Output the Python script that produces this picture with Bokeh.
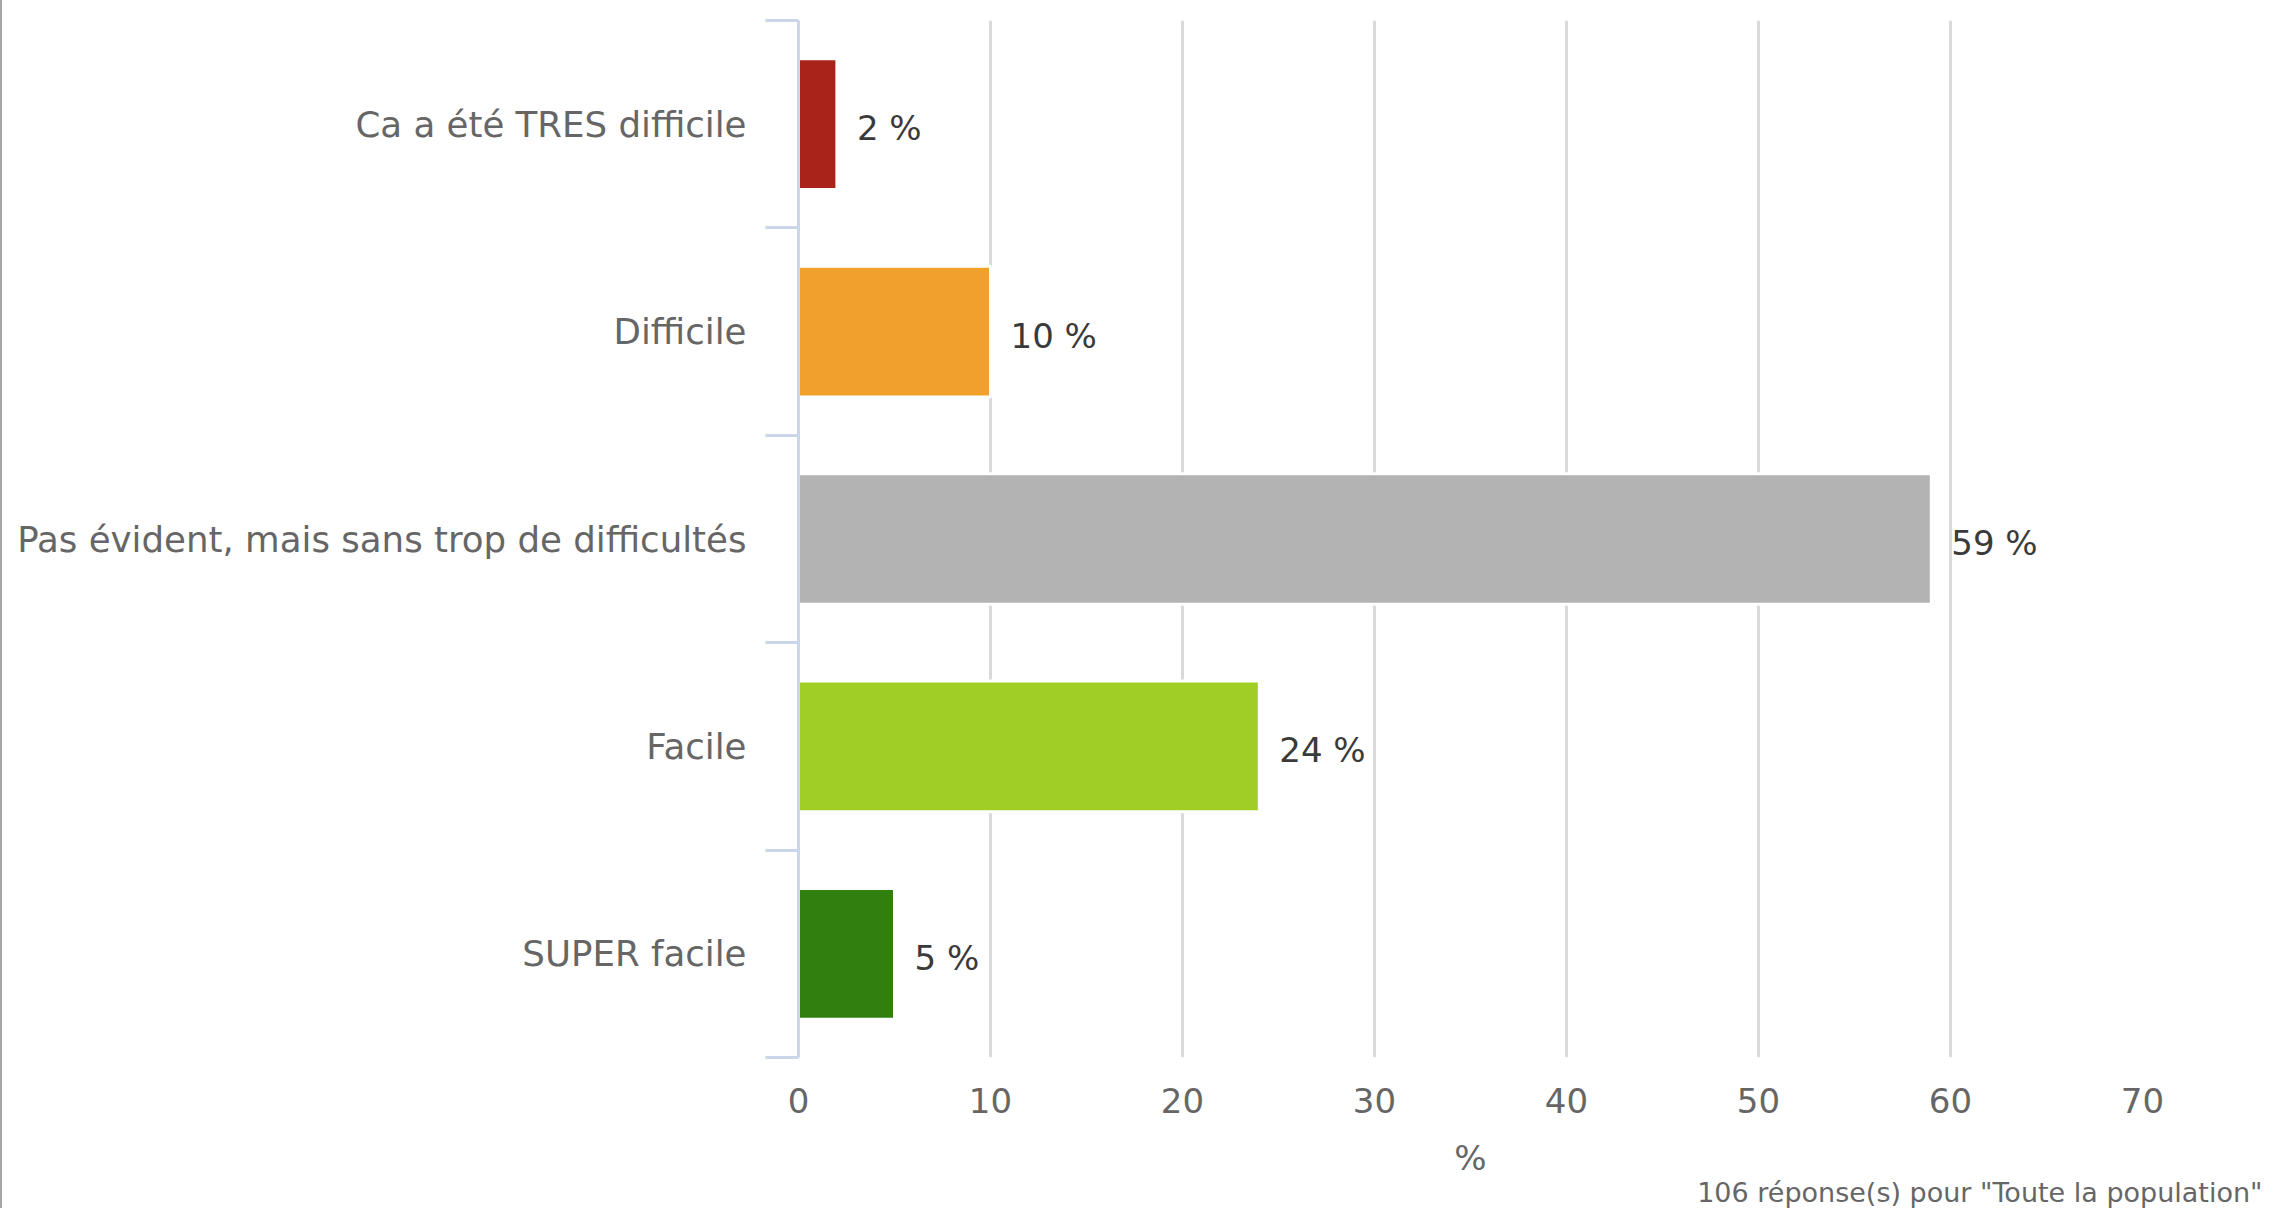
from bokeh.plotting import figure
from bokeh.models import Range1d, FixedTicker, ColumnDataSource, Title
from bokeh.core.properties import value
from bokeh.embed import file_html
from bokeh.resources import INLINE

categories = ["Ca a été TRES difficile", "Difficile",
              "Pas évident, mais sans trop de difficultés", "Facile", "SUPER facile"]
percentages = [2, 10, 59, 24, 5]
bar_colors = ["#a9231a", "#f0a02d", "#b3b3b3", "#a0ce24", "#317f0f"]
x_ticks = [0, 10, 20, 30, 40, 50, 60, 70]
x_axis_title = "%"
footer_text = '106 réponse(s) pour "Toute la population"'

FONT = "DejaVu Sans"
W, H = 2263, 1208
LEFT, RIGHT, TOP, BOTTOM = 796, 123, 20, 151
n = len(categories)
ypos = [n - i - 0.5 for i in range(n)]
labels = [f"{v} %" for v in percentages]

src = ColumnDataSource(dict(y=ypos, right=percentages, color=bar_colors, label=labels))

p = figure(width=W, height=H, output_backend="svg", toolbar_location=None,
           x_range=Range1d(x_ticks[0], x_ticks[-1]), y_range=Range1d(0, n),
           min_border_left=LEFT, min_border_right=RIGHT,
           min_border_top=TOP, min_border_bottom=BOTTOM)
p.outline_line_color = None
p.background_fill_color = "white"
p.border_fill_color = "white"
p.styles = {"border-left": "2px solid #a6a6a6"}

p.hbar(y="y", left=0, right="right", height=0.63, fill_color="color",
       line_color="white", line_width=3, source=src)
p.text(x="right", y="y", text="label", x_offset=20, y_offset=4,
       text_baseline="middle", text_align="left", text_font=value(FONT),
       text_font_size="34px", text_color="#3a3a3a", source=src)

# x axis
p.xaxis.ticker = FixedTicker(ticks=x_ticks)
p.xaxis.axis_line_color = None
p.xaxis.major_tick_line_color = None
p.xaxis.minor_tick_line_color = None
p.xaxis.major_label_text_font = FONT
p.xaxis.major_label_text_font_size = "34px"
p.xaxis.major_label_text_color = "#666666"
p.xaxis.major_label_standoff = 24
p.xaxis.axis_label = x_axis_title
p.xaxis.axis_label_text_font = FONT
p.xaxis.axis_label_text_font_style = "normal"
p.xaxis.axis_label_text_font_size = "34px"
p.xaxis.axis_label_text_color = "#666666"
p.xaxis.axis_label_standoff = 22
p.xgrid.ticker = FixedTicker(ticks=x_ticks)
p.xgrid.grid_line_color = "#d9d9d9"
p.xgrid.grid_line_width = 3
p.ygrid.grid_line_color = None

# y axis (categories, ticks between categories)
p.yaxis.ticker = FixedTicker(ticks=ypos, minor_ticks=list(range(n + 1)))
p.yaxis.major_label_overrides = {y: c for y, c in zip(ypos, categories)}
p.yaxis.major_tick_line_color = None
p.yaxis.major_tick_out = 0
p.yaxis.major_tick_in = 0
p.yaxis.minor_tick_out = 33
p.yaxis.minor_tick_in = 0
p.yaxis.minor_tick_line_color = "#ccd6eb"
p.yaxis.minor_tick_line_width = 3
p.yaxis.axis_line_color = "#ccd6eb"
p.yaxis.axis_line_width = 3
p.yaxis.major_label_text_font = FONT
p.yaxis.major_label_text_font_size = "35.6px"
p.yaxis.major_label_text_color = "#666666"
p.yaxis.major_label_standoff = 19

# footer
p.add_layout(Title(text=footer_text, align="right", vertical_align="top",
                   text_font_size="27px", text_font_style="normal",
                   text_color="#666666", text_font=FONT,
                   offset=-120, standoff=-8), "below")

open("out.html", "w").write(file_html(p, INLINE))
